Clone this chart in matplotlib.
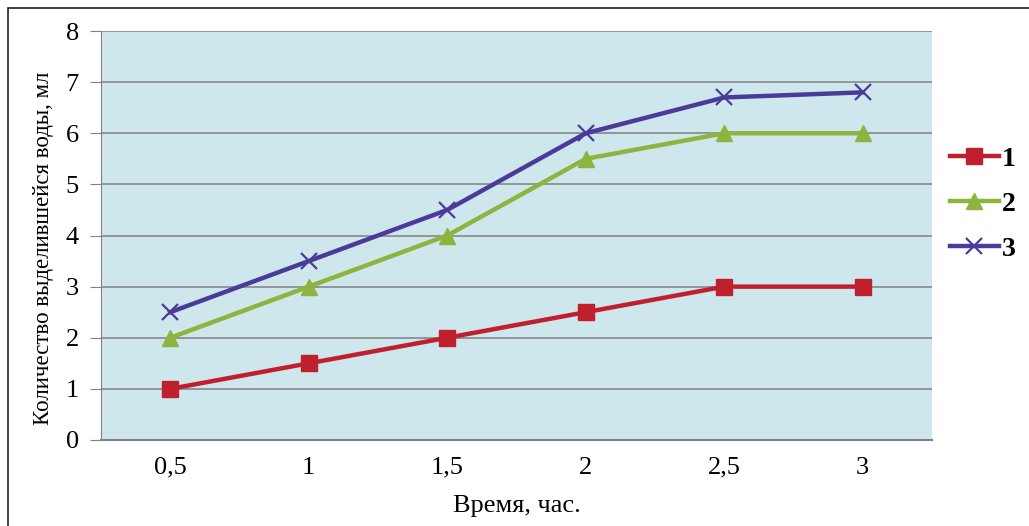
import matplotlib.pyplot as plt
from matplotlib.patches import Rectangle

# Data
times = ["0,5", "1", "1,5", "2", "2,5", "3"]
series_1 = [1.0, 1.5, 2.0, 2.5, 3.0, 3.0]
series_2 = [2.0, 3.0, 4.0, 5.5, 6.0, 6.0]
series_3 = [2.5, 3.5, 4.5, 6.0, 6.7, 6.8]
labels = ["1", "2", "3"]

plt.rcParams["font.family"] = ["Liberation Serif", "DejaVu Serif"]

fig = plt.figure(figsize=(10.29, 5.26), dpi=100)
ax = fig.add_axes([101 / 1029, 1 - 440 / 526, (932 - 101) / 1029, (440 - 31) / 526])

# outer frame (cut at right and bottom)
fig.patches.append(Rectangle((8 / 1029, -0.05), 1.1, 1 - 8 / 526 + 0.05,
                             transform=fig.transFigure, fill=False,
                             edgecolor="#222222", linewidth=1.2))

x = list(range(len(times)))
ax.plot(x, series_1, color="#c0202e", linewidth=3.2, marker="s", markersize=11,
        label=labels[0], zorder=3)
ax.plot(x, series_2, color="#8db43e", linewidth=3.2, marker="^", markersize=12,
        label=labels[1], zorder=3)
ax.plot(x, series_3, color="#4b3a9a", linewidth=3.2, marker="x", markersize=12,
        markeredgewidth=1.6, label=labels[2], zorder=3)

ax.set_facecolor("#cee7ed")
ax.set_xlim(-0.5, len(times) - 0.5)
ax.set_ylim(0, 8)
ax.set_yticks(range(0, 9))
ax.set_xticks(x)
ax.set_xticklabels(times)
ax.grid(axis="y", color="#808080", linewidth=1.1)
ax.set_axisbelow(True)

for side in ["top", "right"]:
    ax.spines[side].set_visible(False)
ax.spines["left"].set_color("#808080")
ax.spines["bottom"].set_color("#808080")
ax.spines["bottom"].set_linewidth(1.5)

ax.tick_params(axis="y", length=8, color="#808080", labelsize=19, pad=8)
ax.tick_params(axis="x", length=0, labelsize=19, pad=12)

ax.set_xlabel("Время, час.", fontsize=19, labelpad=12)
ax.set_ylabel("Количество выделившейся воды, мл", fontsize=16.5)
ax.yaxis.set_label_coords(-47 / 831, (440 - 248) / 409)

leg = fig.legend(loc="center left", bbox_to_anchor=(950 / 1029, 1 - 204 / 526),
                 frameon=False, prop={"weight": "bold", "size": 20},
                 handlelength=1.75, handletextpad=0.1, labelspacing=0.7,
                 borderaxespad=0, borderpad=0)

fig.savefig("out.png", dpi=100)
